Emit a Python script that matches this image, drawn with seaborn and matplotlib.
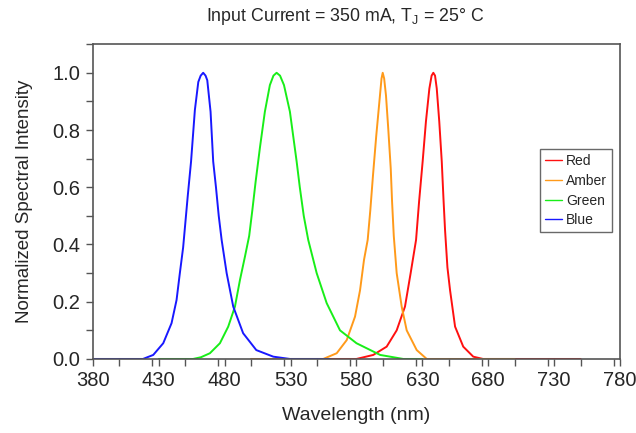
import matplotlib
matplotlib.use("Agg")
import matplotlib.pyplot as plt
import pandas as pd
import seaborn as sns
from matplotlib.ticker import MultipleLocator

sns.set_theme(style="white")
plt.rcParams["font.family"] = ["Liberation Sans", "DejaVu Sans"]

# values
red_nm = [560, 580, 592.7, 602.9, 610.5, 616.8, 621.1, 625.2, 627.5, 630.2,
          632.7, 635.3, 637, 638.3, 639.6, 640.9, 642.8, 644.7, 646, 647.2,
          649, 651, 654.8, 661, 668.6, 676, 750]
red_val = [0.0, 0.0, 0.014, 0.043, 0.10, 0.183, 0.30, 0.416, 0.55, 0.69,
           0.83, 0.945, 0.99, 1.0, 0.99, 0.945, 0.83, 0.69, 0.56, 0.45,
           0.32, 0.24, 0.113, 0.043, 0.008, 0.0, 0.0]

amber_nm = [500, 554.8, 565, 572.6, 578.9, 582.7, 585.7, 588.5, 590.5, 592.5,
            595, 597.8, 599, 599.9, 601, 602.4, 604.1, 606, 607, 608.3,
            610.5, 614.3, 618.1, 625.7, 633.3, 700]
amber_val = [0.0, 0.0, 0.02, 0.066, 0.148, 0.24, 0.346, 0.416, 0.52, 0.64,
             0.78, 0.92, 0.98, 1.0, 0.98, 0.92, 0.805, 0.665, 0.55, 0.43,
             0.30, 0.183, 0.10, 0.031, 0.0, 0.0]

green_nm = [430, 456, 462, 468.8, 476.4, 482.7, 487.8, 491.6, 495.4, 498.6,
            501, 503.5, 506.8, 510.5, 514.3, 517, 519.4, 522, 525, 529.5,
            534.6, 537, 540, 543.4, 549.8, 557.4, 567.5, 580, 598, 615.5, 630]
green_val = [0.0, 0.0, 0.006, 0.02, 0.055, 0.113, 0.183, 0.276, 0.358, 0.43,
             0.52, 0.62, 0.74, 0.864, 0.957, 0.99, 1.0, 0.99, 0.957, 0.864,
             0.69, 0.60, 0.50, 0.416, 0.30, 0.195, 0.10, 0.055, 0.014, 0.0, 0.0]

blue_nm = [380, 418, 425.8, 433.4, 439.7, 443.5, 446, 448.5, 452, 454.5,
           457.4, 460, 461.8, 463.7, 465.5, 466.8, 469.3, 471.3, 473.4, 475.5,
           477.7, 481.5, 486.5, 494, 504, 516.9, 529.5, 560]
blue_val = [0.0, 0.0, 0.014, 0.055, 0.125, 0.206, 0.30, 0.39, 0.57, 0.69,
            0.87, 0.968, 0.99, 1.0, 0.99, 0.974, 0.864, 0.69, 0.60, 0.50,
            0.416, 0.30, 0.183, 0.09, 0.031, 0.008, 0.0, 0.0]

series_names = ["Red", "Amber", "Green", "Blue"]
series_colors = ["#ff1010", "#ff9a1a", "#18ee18", "#1818ff"]
x_ticks = [380, 430, 480, 530, 580, 630, 680, 730, 780]
y_ticks = [0.0, 0.2, 0.4, 0.6, 0.8, 1.0]

frames = []
for name, nm, val in zip(series_names,
                         [red_nm, amber_nm, green_nm, blue_nm],
                         [red_val, amber_val, green_val, blue_val]):
    frames.append(pd.DataFrame({"wavelength": nm, "intensity": val, "led": name}))
data = pd.concat(frames, ignore_index=True)

fig = plt.figure(figsize=(6.36, 4.33), dpi=100)
ax = fig.add_axes([0.146, 0.171, 0.829, 0.727])

sns.lineplot(data=data, x="wavelength", y="intensity", hue="led",
             hue_order=series_names, palette=series_colors, sort=False,
             estimator=None, linewidth=1.4, ax=ax)

ax.set_xlim(380, 780)
ax.set_ylim(0, 1.1)
ax.set_xticks(x_ticks)
ax.set_yticks(y_ticks)
ax.set_yticklabels([f"{v:.1f}" for v in y_ticks])
ax.xaxis.set_minor_locator(MultipleLocator(25))
ax.yaxis.set_minor_locator(MultipleLocator(0.1))
ax.tick_params(which="both", direction="out", color="#555555", width=1,
               bottom=True, left=True, labelsize=14.5, pad=4, length=5)
for sp in ax.spines.values():
    sp.set_color("#555555")
    sp.set_linewidth(1.2)

ax.set_xlabel("Wavelength (nm)", fontsize=14, labelpad=12)
ax.set_ylabel("Normalized Spectral Intensity", fontsize=13.5, labelpad=14)
fig.text(0.543, 0.963, "Input Current = 350 mA, T$_\\mathregular{J}$ = 25° C",
         ha="center", va="center", fontsize=12.8)

leg = ax.legend(loc="upper right", bbox_to_anchor=(0.985, 0.667), fontsize=10,
                frameon=True, fancybox=False, handlelength=1.25,
                handletextpad=0.3, borderpad=0.35, labelspacing=0.42,
                borderaxespad=0, edgecolor="#444444")
leg.get_frame().set_linewidth(1.0)
for line in leg.get_lines():
    line.set_linewidth(1.0)

fig.savefig("out.png", dpi=100)
